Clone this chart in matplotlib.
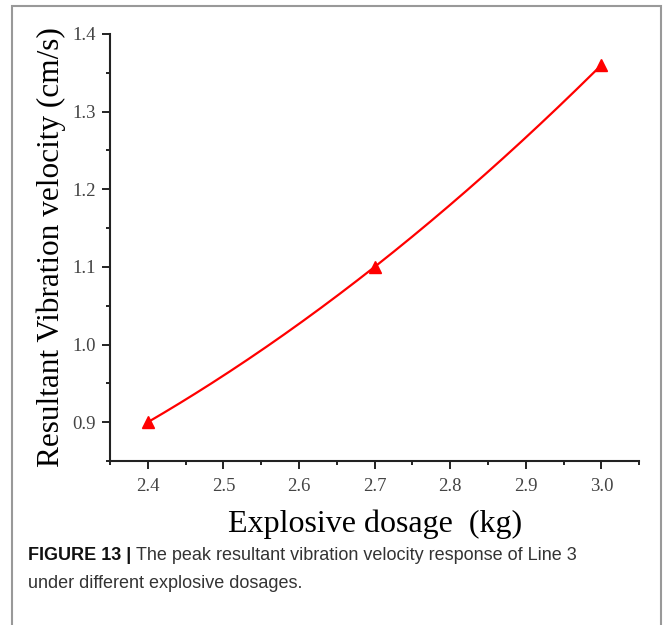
import matplotlib
matplotlib.use("Agg")
import matplotlib.pyplot as plt
import numpy as np
from matplotlib.patches import Rectangle
from matplotlib.ticker import MultipleLocator

# data
dosage = [2.4, 2.7, 3.0]
velocity = [0.90, 1.10, 1.36]

x_ticks = [2.4, 2.5, 2.6, 2.7, 2.8, 2.9, 3.0]
y_ticks = [0.9, 1.0, 1.1, 1.2, 1.3, 1.4]

fig = plt.figure(figsize=(6.63, 6.25), dpi=100)
ax = fig.add_axes([0.166, 0.2624, 0.798, 0.6832])

# smooth connecting curve through the three points (origin-style spline)
coef = np.polyfit(dosage, velocity, 2)
xs = np.linspace(dosage[0], dosage[-1], 200)
ax.plot(xs, np.polyval(coef, xs), color="red", lw=1.6)
ax.plot(dosage, velocity, "^", color="red", ms=8, mec="red")

ax.set_xlim(2.35, 3.05)
ax.set_ylim(0.85, 1.4)
ax.set_xticks(x_ticks)
ax.set_yticks(y_ticks)
ax.xaxis.set_minor_locator(MultipleLocator(0.05))
ax.yaxis.set_minor_locator(MultipleLocator(0.05))
ax.set_xticklabels([f"{v:.1f}" for v in x_ticks])
ax.set_yticklabels([f"{v:.1f}" for v in y_ticks])

for s in ["top", "right"]:
    ax.spines[s].set_visible(False)
for s in ["left", "bottom"]:
    ax.spines[s].set_linewidth(1.5)
    ax.spines[s].set_color("#222222")

ax.tick_params(which="major", length=6, width=1.4, color="#222222",
               labelsize=13.5, labelcolor="#444444")
ax.tick_params(axis="x", which="major", pad=6)
ax.tick_params(axis="y", which="major", pad=4)
ax.tick_params(which="minor", length=3, width=1.4, color="#222222")
for lab in ax.get_xticklabels() + ax.get_yticklabels():
    lab.set_family("Liberation Serif")

ax.set_xlabel("Explosive dosage  (kg)", family="Liberation Serif",
              fontsize=23, labelpad=11)
ax.set_ylabel("Resultant Vibration velocity (cm/s)", family="Liberation Serif",
              fontsize=22.5, labelpad=5)

# frame around the figure panel
fig.patches.append(Rectangle((12 / 663, -0.05), 649 / 663, 1.05 - 6 / 625,
                             transform=fig.transFigure, fill=False,
                             ec="#999999", lw=1.5))

# caption: bold label then plain text right after it
head = fig.text(28 / 663, 1 - 560 / 625, "FIGURE 13 |", family="Liberation Sans",
                fontweight="bold", fontsize=13, color="#111111")
fig.canvas.draw()
bb = head.get_window_extent(fig.canvas.get_renderer())
fig.text((bb.x1 + 5) / 663, 1 - 560 / 625,
         "The peak resultant vibration velocity response of Line 3",
         family="Liberation Sans", fontsize=13, color="#333333")
fig.text(28 / 663, 1 - 588 / 625, "under different explosive dosages.",
         family="Liberation Sans", fontsize=13, color="#333333")

fig.savefig("out.png", dpi=100)
